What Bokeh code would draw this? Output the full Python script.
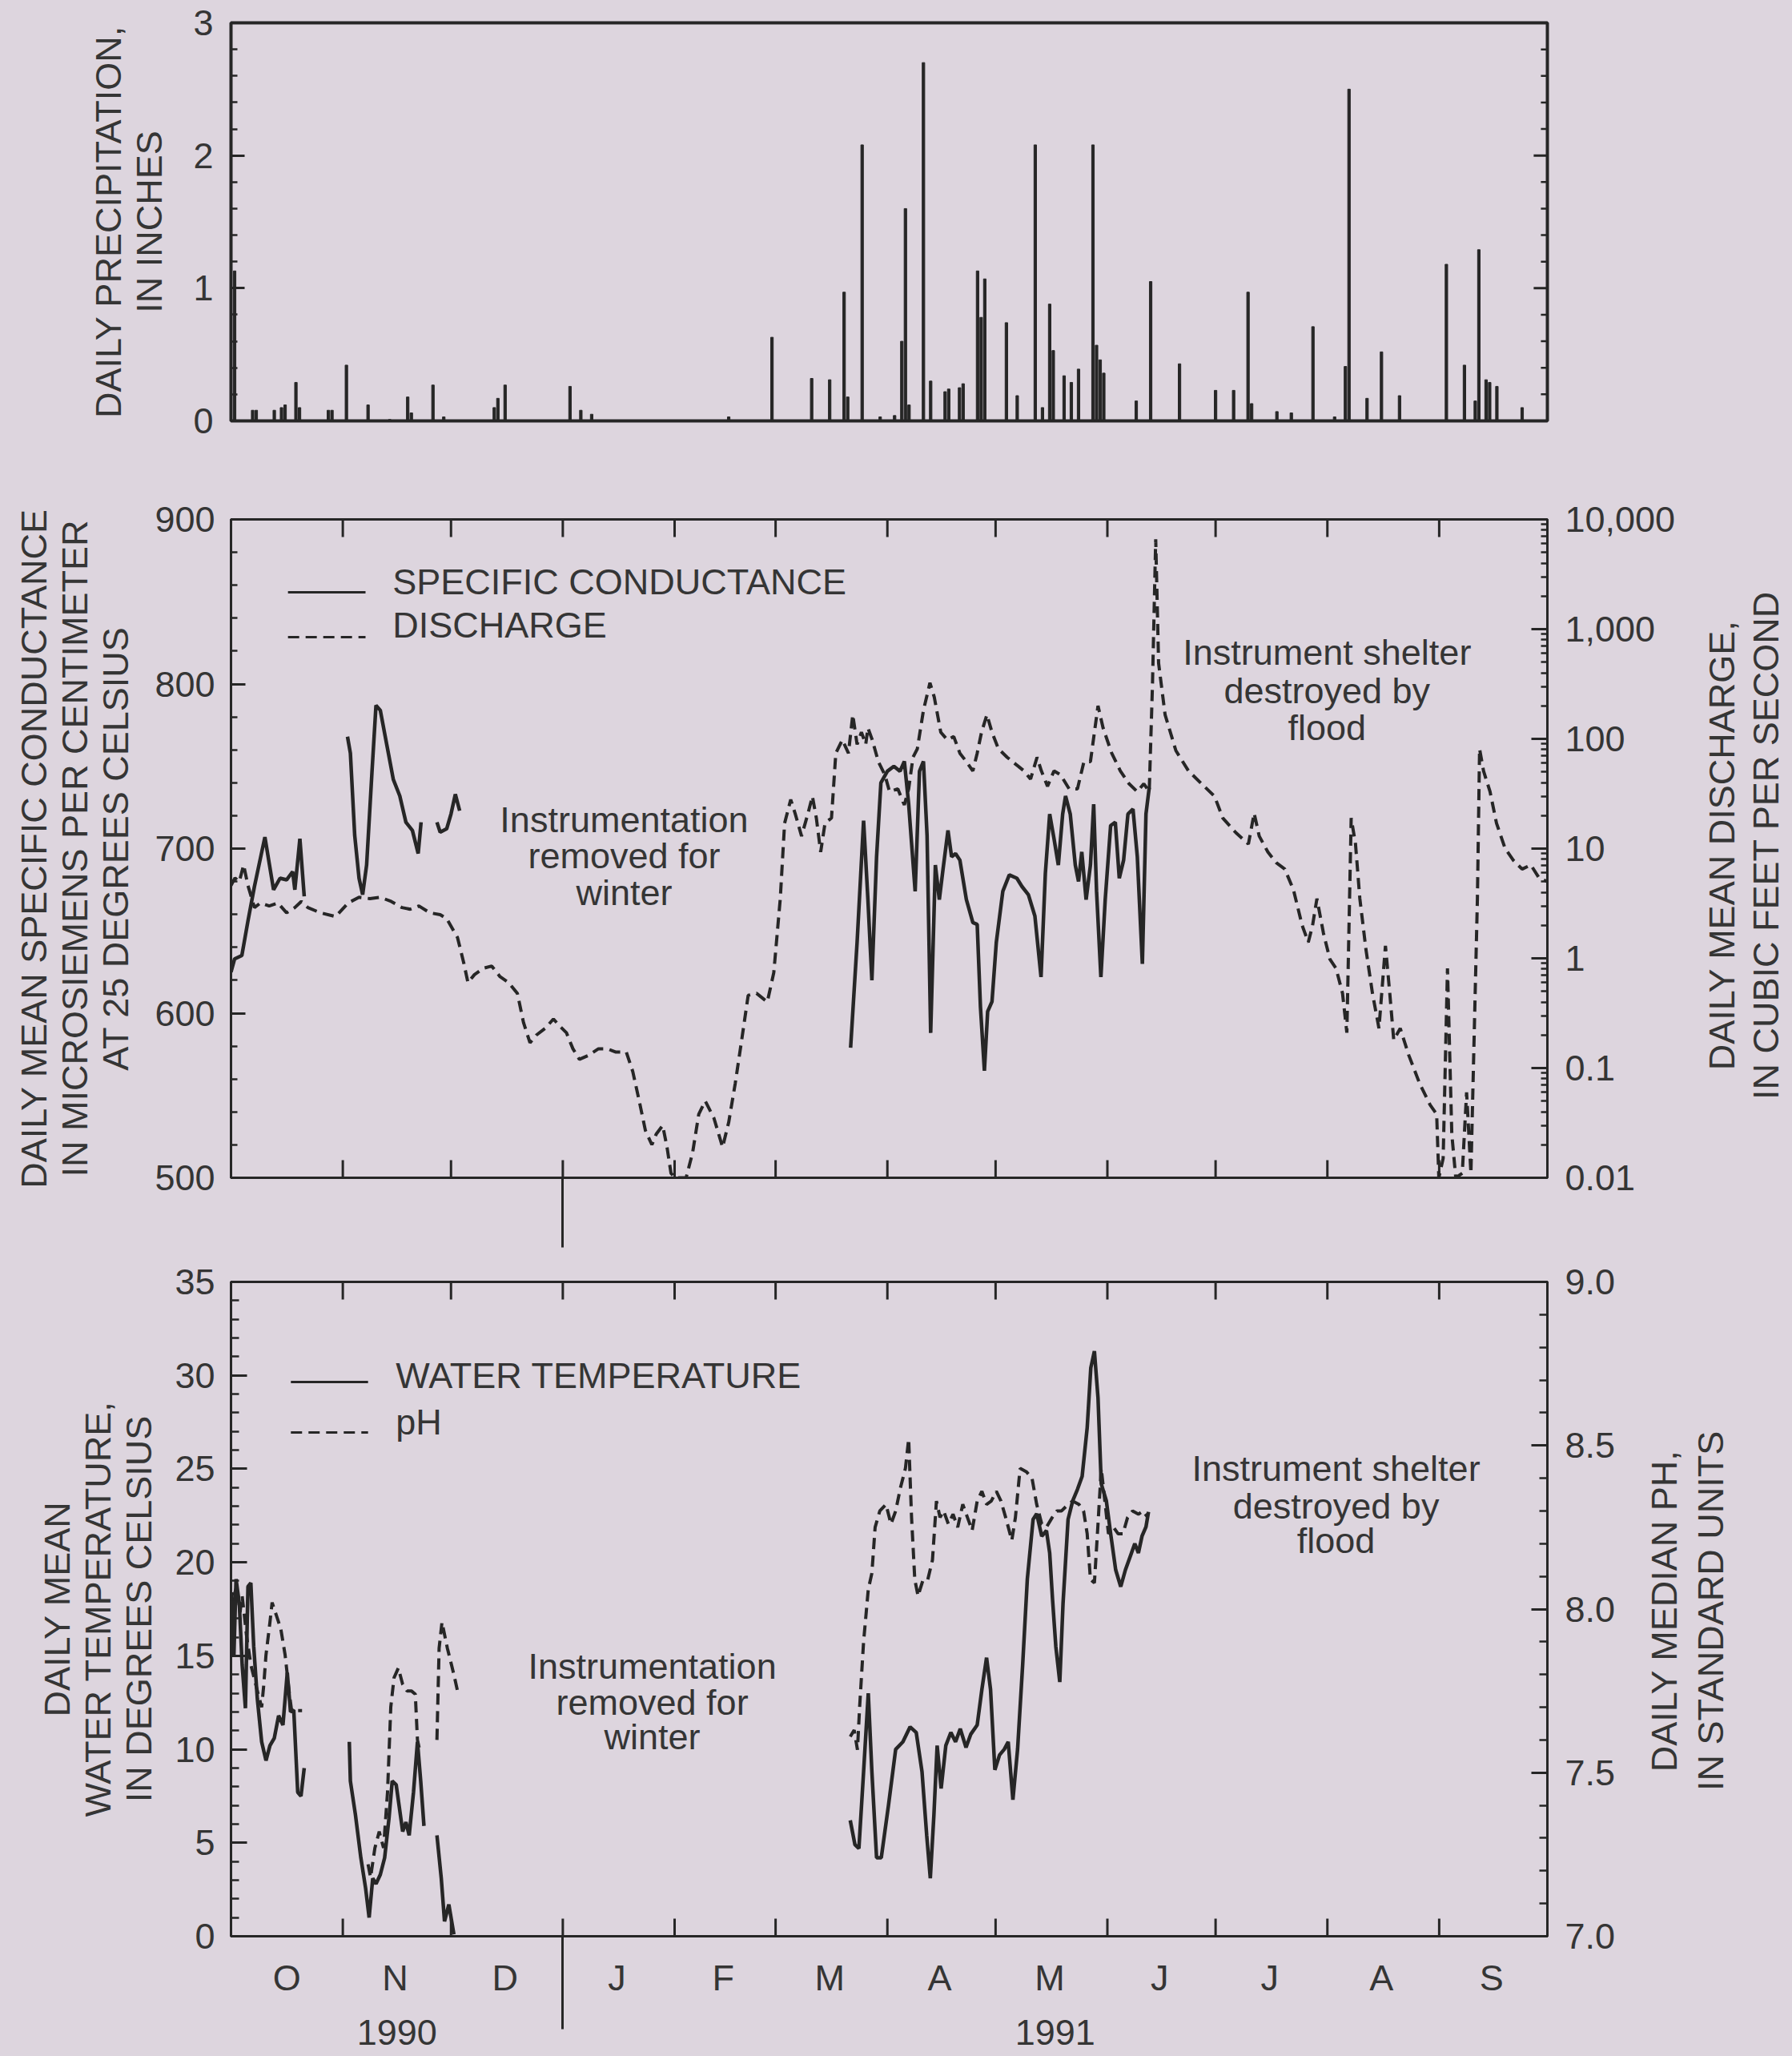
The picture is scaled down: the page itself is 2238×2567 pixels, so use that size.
import numpy as np
from bokeh.plotting import figure
from bokeh.models import (Range1d, LinearAxis, LogAxis, FixedTicker, Label,
                          LogScale, NumeralTickFormatter)
from bokeh.layouts import column, row
from bokeh.embed import file_html
from bokeh.resources import INLINE
from bokeh.core.properties import value

nan = float("nan")

# ---------------- DATA (day 0 = 1 Oct 1990) ----------------
month_starts = [0, 31, 61, 92, 123, 151, 182, 212, 243, 273, 304, 335, 365]
month_mid = [15.5, 45.5, 76, 107, 136.5, 166, 196.5, 227, 257.5, 288, 319, 349.5]
month_letters = ["O", "N", "D", "J", "F", "M", "A", "M", "J", "J", "A", "S"]
year_labels = ["1990", "1991"]
year_mid = [46, 228.5]
new_year_day = 92

precip_day = [1, 6, 7, 12, 14, 15, 18, 19, 27, 28, 32, 38, 44, 49, 50, 56, 59, 73, 74, 76,
              94, 97, 100, 138, 150, 161, 166, 170, 171, 175, 180, 184, 186, 187, 188, 192,
              194, 198, 199, 202, 203, 207, 208, 209, 215, 218, 223, 225, 227, 228, 231, 233,
              235, 239, 240, 241, 242, 251, 255, 263, 273, 278, 282, 283, 290, 294, 300, 306,
              309, 310, 315, 319, 324, 337, 342, 345, 346, 348, 349, 351, 358]
precip_in = [1.13, 0.08, 0.08, 0.08, 0.10, 0.12, 0.29, 0.10, 0.08, 0.08, 0.42, 0.12, 0.01,
             0.18, 0.06, 0.27, 0.03, 0.10, 0.17, 0.27, 0.26, 0.08, 0.05, 0.03, 0.63, 0.32,
             0.31, 0.97, 0.18, 2.08, 0.03, 0.04, 0.60, 1.60, 0.12, 2.70, 0.30, 0.22, 0.24,
             0.25, 0.28, 1.13, 0.78, 1.07, 0.74, 0.19, 2.08, 0.10, 0.88, 0.53, 0.34, 0.29,
             0.39, 2.08, 0.57, 0.46, 0.36, 0.15, 1.05, 0.43, 0.23, 0.23, 0.97, 0.13, 0.07,
             0.06, 0.71, 0.03, 0.41, 2.50, 0.17, 0.52, 0.19, 1.18, 0.42, 0.15, 1.29, 0.31,
             0.29, 0.26, 0.10]

sc_day = [0.0, 1.0, 3.0, 4.7, 6.5, 9.4, 11.8, 13.6, 15.4, 17.1, 17.7, 19.1, 20.3, nan,
          32.3, 33.1, 34.3, 35.5, 36.5, 37.6, 39.1, 40.2, 41.4, 43.2, 45.0, 46.8, 48.5, 50.3,
          51.9, 52.7, nan,
          57.1, 58.0, 59.8, 61.0, 62.2, 63.4, nan,
          171.8, 173.6, 175.4, 176.6, 177.7, 179.0, 180.2, 182.0, 183.8, 185.5, 186.7, 187.9,
          189.7, 190.9, 192.0, 193.0, 194.0, 195.3, 196.4, 197.4, 198.8, 199.8, 200.9, 202.1,
          203.9, 205.7, 206.9, 207.8, 208.9, 209.8, 211.0, 212.2, 214.0, 215.8, 217.9, 219.3,
          221.1, 222.9, 224.6, 225.8, 227.0, 228.2, 229.4, 230.6, 231.4, 232.7, 234.1, 235.0,
          235.9, 237.1, 238.3, 239.2, 240.0, 241.2, 242.4, 243.9, 245.2, 246.3, 247.5, 248.7,
          250.1, 251.3, 252.7, 253.7, 254.6]
sc_val = [625, 633, 635, 656, 677, 707, 675, 682, 681, 686, 675, 706, 671, nan,
          768, 758, 708, 682, 672, 690, 747, 787, 784, 763, 742, 732, 716, 711, 697, 716, nan,
          716, 710, 712, 721, 733, 723, nan,
          579, 643, 717, 669, 620, 695, 740, 747, 750, 747, 753, 727,
          674, 747, 753, 708, 588, 690, 669, 687, 711, 695, 697, 693,
          669, 655, 654, 604, 565, 601, 607, 643, 674, 684, 682, 677,
          672, 659, 622, 685, 721, 706, 690, 721, 732, 721, 690, 680,
          698, 669, 690, 727, 674, 622, 669, 714, 716, 682, 693, 721,
          724, 695, 630, 721, 737]

q_day = [0, 1.1, 2.3, 3.5, 4.7, 6.5, 8.2, 10.6, 13, 15.4, 17.7, 19.5, 21.3, 24.8, 29, 32.5,
         35.5, 38.5, 41.4, 44.4, 47.4, 49.7, 52.1, 55.1, 58, 59.8, 62.8, 64.6, 65.7, 67.5,
         69.9, 72.3, 74.6, 77, 79.4, 81.1, 82.9, 84.7, 87.1, 89.4, 91.2, 93, 94.8, 96.6, 99,
         101.9, 104.3, 106.6, 109.6, 111.4, 113.2, 114.9, 116.7, 117.9, 119.7, 120.9, 122,
         123.2, 126.2, 128, 129.7, 131.5, 133.9, 136.3, 138, 139.8, 141.6, 143.4, 145.7,
         148.7, 150.5, 152.3, 153.5, 155.2, 156.4, 158.2, 160, 161.2, 162.3, 163.5, 164.7,
         166.5, 167.7, 169.5, 171.2, 172.4, 173.6, 174.8, 176, 176.6, 177.8, 179.5, 181.3,
         182.6, 184.9, 186.7, 187.9, 189.1, 190.3, 192, 193.8, 195, 196.8, 198.6, 200.4,
         202.1, 203.9, 205.7, 206.9, 208.1, 209.6, 211, 212.8, 215.2, 217.5, 219.9, 221.7,
         223.5, 224.7, 226.4, 228.2, 230, 232.4, 234.7, 236.5, 238.3, 240.4, 241.8, 244.2,
         246.6, 249, 251.3, 253.1, 254.6, 255.5, 256.4, 257.2, 259, 262, 265.5, 269.1, 272.7,
         275, 278.6, 282.1, 283.7, 285.1, 287.5, 289.9, 292.2, 294.6, 297, 298.7, 299.9,
         301.1, 302.9, 304.7, 306.4, 308.2, 309.4, 310.6, 311.8, 313, 314.7, 316.5, 318.3,
         320.1, 321.3, 322.4, 324.2, 326.6, 329.6, 332.5, 334.3, 334.9, 336.1, 337.3, 338.5,
         339.6, 341.4, 342.6, 343.8, 345.6, 346.2, 347.3, 349.1, 350.9, 353.3, 355.6, 358,
         360.4, 362.7, 365]
q_cfs = [4.6, 5.4, 5.0, 7.1, 4.6, 2.9, 3.2, 3.0, 3.2, 2.6, 2.9, 3.3, 2.9, 2.6, 2.4, 3.2,
         3.6, 3.5, 3.6, 3.3, 2.9, 2.8, 3.0, 2.6, 2.5, 2.3, 1.55, 0.89, 0.60, 0.71,
         0.81, 0.85, 0.68, 0.60, 0.48, 0.26, 0.17, 0.20, 0.23, 0.28, 0.24, 0.21, 0.15, 0.12,
         0.13, 0.15, 0.15, 0.14, 0.14, 0.093, 0.050, 0.027, 0.020, 0.025, 0.030, 0.019, 0.011,
         0.010, 0.010, 0.017, 0.038, 0.050, 0.035, 0.019, 0.032, 0.072, 0.18, 0.46, 0.48,
         0.40, 0.74, 3.5, 17, 28, 21, 13, 21, 30, 19, 9.3, 17,
         19, 74, 98, 74, 166, 89, 115, 89, 126, 98, 62, 47,
         33, 35, 25, 35, 68, 81, 182, 324, 240, 115, 98, 105,
         74, 62, 51, 74, 115, 166, 115, 81, 68, 59, 51, 43,
         68, 51, 37, 51, 47, 35, 35, 62, 62, 200, 126, 74,
         51, 39, 33, 39, 33, 309, 6600, 490, 166, 78, 51, 39, 30,
         19, 14, 11, 21, 13, 9.3, 7.4, 6.5, 4.2, 2.0, 1.4, 2.0,
         3.5, 1.7, 0.98, 0.81, 0.48, 0.21, 19, 11, 3.5, 1.2, 0.48, 0.23,
         1.3, 0.48, 0.18, 0.23, 0.13, 0.072, 0.046, 0.038, 0.010, 0.015, 0.81, 0.025,
         0.010, 0.011, 0.060, 0.011, 3.5, 81, 51, 33, 17, 10, 7.8, 6.5,
         7.1, 5.4, 5.0]

temp_day = [0.2, 0.8, 1.4, 2.3, 3.1, 4.0, 4.7, 5.5, 6.3, 7.3, 8.5, 9.7, 10.8, 12.0, 13.2,
            14.4, 15.6, 16.5, 17.4, 18.5, 19.4, 20.3, nan,
            32.8, 33.1, 34.5, 36.0, 37.3, 38.3, 39.3, 40.2, 41.4, 42.6, 43.8, 44.7, 45.8,
            46.6, 47.6, 48.5, 49.4, 50.6, 51.7, 52.6, 53.5, nan,
            57.1, 58.3, 59.2, 60.4, 61.8, nan,
            171.7, 173.0, 174.1, 175.4, 176.7, 177.7, 179.0, 180.3, 182.3, 184.3, 186.3, 188.3,
            190.0, 191.6, 192.9, 193.9, 194.9, 195.8, 196.9, 198.2, 199.6, 200.9, 202.2, 203.8,
            205.1, 206.9, 208.2, 209.5, 210.6, 211.8, 213.1, 214.4, 215.5, 216.8, 218.1, 219.5,
            220.8, 222.4, 223.4, 224.8, 226.1, 227.0, 227.8, 228.7, 229.8, 230.7, 232.1, 233.4,
            234.7, 236.0, 237.4, 238.4, 239.4, 240.4, 241.3, 242.7, 244.0, 245.3, 246.7, 248.0,
            249.3, 250.6, 251.6, 252.6, 253.7, 254.4]
temp_c = [18.4, 15.0, 19.1, 17.8, 14.5, 12.2, 18.7, 18.9, 15.5, 12.7, 10.4, 9.4, 10.2, 10.6,
          11.8, 11.3, 14.1, 12.0, 12.1, 7.7, 7.5, 9.0, nan,
          10.4, 8.3, 6.5, 4.2, 2.6, 1.0, 3.1, 2.8, 3.3, 4.2, 6.3, 8.3, 8.1,
          7.0, 5.6, 6.1, 5.4, 7.7, 10.4, 8.3, 5.9, nan,
          5.4, 3.1, 0.8, 1.7, 0.1, nan,
          6.2, 4.9, 4.7, 8.8, 13.0, 8.8, 4.2, 4.2, 7.0, 10.0, 10.4, 11.2,
          10.9, 8.8, 5.4, 3.1, 6.5, 10.2, 7.9, 10.2, 10.9, 10.4, 11.1, 10.1,
          10.8, 11.3, 13.2, 14.9, 13.2, 8.9, 9.7, 10.0, 10.4, 7.3, 10.0, 14.5,
          19.1, 22.3, 22.6, 21.4, 21.7, 20.5, 18.0, 15.5, 13.6, 17.8, 22.3, 23.3,
          23.9, 24.6, 27.2, 30.4, 31.3, 28.8, 24.2, 23.3, 21.4, 19.6, 18.7, 19.6,
          20.3, 21.0, 20.5, 21.4, 21.9, 22.7]

ph_day = [0.2, 0.8, 1.6, 2.5, 3.1, 4.3, 5.5, 7.3, 8.5, 9.1, 9.7, 10.8, 11.4, 12.6, 13.8,
          15.0, 16.2, 16.8, 19.7, nan,
          38.0, 38.7, 39.9, 41.1, 42.3, 43.4, 44.3, 45.2, 46.4, 47.6, 48.8, 50.0, 51.1, 51.7,
          52.3, nan,
          57.1, 57.7, 58.5, 60.0, 61.8, 63.0, nan,
          171.7, 172.8, 173.7, 174.3, 175.4, 176.7, 177.7, 178.6, 179.9, 181.6, 183.0, 184.3,
          185.6, 187.0, 187.9, 188.7, 189.6, 190.5, 191.9, 193.2, 194.5, 195.6, 196.6, 197.6,
          198.9, 200.2, 201.5, 202.9, 204.2, 205.5, 206.9, 208.2, 209.5, 210.8, 212.2, 213.5,
          214.8, 216.5, 217.5, 218.8, 220.5, 222.1, 223.4, 224.8, 226.1, 227.7, 229.0, 230.3,
          232.1, 233.4, 235.1, 236.4, 237.4, 238.3, 239.4, 240.4, 241.3, 242.3, 243.3, 244.7,
          246.0, 247.3, 248.6, 250.0, 251.6, 252.9, 254.2]
ph_val = [7.88, 8.04, 8.07, 7.99, 8.04, 7.92, 7.83, 7.75, 7.70, 7.77, 7.86, 7.96, 8.02, 7.98,
          7.94, 7.86, 7.74, 7.69, 7.69, nan,
          7.22, 7.18, 7.27, 7.32, 7.27, 7.44, 7.70, 7.79, 7.82, 7.77, 7.75, 7.75, 7.74, 7.60,
          7.57, nan,
          7.60, 7.88, 7.96, 7.88, 7.80, 7.74, nan,
          7.61, 7.63, 7.57, 7.70, 7.90, 8.06, 8.11, 8.25, 8.30, 8.32, 8.26, 8.30,
          8.37, 8.43, 8.52, 8.28, 8.09, 8.04, 8.09, 8.09, 8.15, 8.33, 8.28, 8.30,
          8.26, 8.29, 8.25, 8.32, 8.28, 8.24, 8.33, 8.36, 8.32, 8.33, 8.36, 8.33,
          8.28, 8.21, 8.28, 8.43, 8.42, 8.40, 8.32, 8.26, 8.25, 8.28, 8.30, 8.30,
          8.32, 8.33, 8.32, 8.30, 8.23, 8.09, 8.08, 8.26, 8.43, 8.33, 8.23, 8.25,
          8.23, 8.23, 8.28, 8.30, 8.29, 8.30, 8.28]

# ---------------- STYLE / LAYOUT ----------------
BG = "#ddd5de"
INK = "#262626"
TXT = "#353535"
FONT = "Liberation Sans"
FS = "45px"
TW = 2236          # total width
FL = 288           # page x of every frame's left edge
FW = 1644          # frame width in px
FR = FL + FW       # page x of every frame's right edge
DASH = "14 8"
inner_months = month_starts[1:-1]


def base_fig(width, height, top, frame_h, y_range):
    p = figure(width=width, height=height, x_range=Range1d(0, 365), y_range=y_range,
               title=None, output_backend="svg", toolbar_location=None,
               x_axis_location=None, y_axis_location=None,
               min_border_left=FL, min_border_right=width - FR,
               min_border_top=top, min_border_bottom=height - top - frame_h,
               background_fill_color=BG, border_fill_color=BG)
    p.grid.visible = False
    p.outline_line_color = INK
    p.outline_line_width = 3
    return p


def side_strip(x0, height, top, frame_h, y_range, xs, yc, lines):
    """Narrow text-only figure right of a panel; its frame matches the panel frame."""
    w = TW - x0
    s = figure(width=w, height=height, x_range=Range1d(x0, TW), y_range=y_range,
               title=None, output_backend="svg", toolbar_location=None,
               x_axis_location=None, y_axis_location=None,
               min_border_left=0, min_border_right=0, min_border_top=top,
               min_border_bottom=height - top - frame_h,
               background_fill_color=BG, border_fill_color=BG)
    s.grid.visible = False
    s.outline_line_color = None
    s.text(x=xs, y=[yc] * len(xs), text=lines, angle=np.pi / 2, text_align="center",
           text_baseline="middle", text_font=value(FONT), text_font_size=value(FS),
           text_color=TXT)
    return s


def style_axis(ax, major_in, minor_in, standoff=20):
    ax.axis_line_color = INK
    ax.axis_line_width = 3
    ax.major_tick_line_color = INK
    ax.major_tick_line_width = 3
    ax.minor_tick_line_color = INK
    ax.minor_tick_line_width = 2.5
    ax.major_tick_in = major_in
    ax.major_tick_out = 0
    ax.minor_tick_in = minor_in
    ax.minor_tick_out = 0
    ax.major_label_text_font = FONT
    ax.major_label_text_font_size = FS
    ax.major_label_text_color = TXT
    ax.major_label_standoff = standoff
    return ax


def axis_title(ax, text, standoff):
    ax.axis_label = text
    ax.axis_label_text_font = FONT
    ax.axis_label_text_font_size = FS
    ax.axis_label_text_font_style = "normal"
    ax.axis_label_text_color = TXT
    ax.axis_label_text_align = "center"
    ax.axis_label_text_line_height = 1.0
    ax.axis_label_standoff = standoff


def month_ticks(p, y_top, y_bot, length):
    n = len(inner_months)
    p.segment(x0=inner_months, x1=inner_months, y0=[y_top] * n, y1=[y_top - length] * n,
              line_color=INK, line_width=3)
    p.segment(x0=inner_months, x1=inner_months, y0=[y_bot] * n, y1=[y_bot + length] * n,
              line_color=INK, line_width=3)


def txt(p, x, y, text, align="center", y_range_name="default"):
    p.add_layout(Label(x=x, y=y, text=text, text_align=align, text_baseline="middle",
                       text_font=FONT, text_font_size=FS, text_color=TXT,
                       y_range_name=y_range_name))


# ================= PANEL 1 : precipitation (page y 0-582) =================
p1 = base_fig(TW, 582, 28, 497, Range1d(0, 3))
p1.outline_line_width = 4
axp = LinearAxis(ticker=FixedTicker(ticks=[0, 1, 2, 3],
                                    minor_ticks=[i * 0.2 for i in range(16)]))
style_axis(axp, 17, 8, standoff=22)
axis_title(axp, "DAILY PRECIPITATION,\nIN INCHES", 26)
p1.add_layout(axp, "left")
p1_major = [1, 2]
p1_minor = [i * 0.2 for i in range(1, 15) if i % 5 != 0]
p1.segment(x0=[365] * 2, x1=[365 - 3.8] * 2, y0=p1_major, y1=p1_major, line_color=INK,
           line_width=3)
p1.segment(x0=[365] * len(p1_minor), x1=[365 - 1.8] * len(p1_minor), y0=p1_minor,
           y1=p1_minor, line_color=INK, line_width=2.5)
p1.vbar(x=precip_day, top=precip_in, bottom=0, width=0.7, color=INK)

# ================= PANEL 2 : conductance & discharge (page y 582-1560) =================
R2X = FR + 175
H2, T2, F2 = 978, 66, 822
p2 = base_fig(R2X, H2, T2, F2, Range1d(500, 900))
p2.extra_y_ranges = {"q": Range1d(0.01, 10000)}
p2.extra_y_scales = {"q": LogScale()}
axl = LinearAxis(ticker=FixedTicker(ticks=[500, 600, 700, 800, 900],
                                    minor_ticks=list(range(500, 901, 20))))
style_axis(axl, 18, 8, standoff=20)
axis_title(axl, "DAILY MEAN SPECIFIC CONDUCTANCE\nIN MICROSIEMENS PER CENTIMETER\n"
                "AT 25 DEGREES CELSIUS", 20)
p2.add_layout(axl, "left")
q_major = [0.01, 0.1, 1, 10, 100, 1000, 10000]
q_minor = [k * 10.0 ** e for e in range(-2, 4) for k in range(2, 10)]
axr = LogAxis(y_range_name="q", ticker=FixedTicker(ticks=q_major, minor_ticks=q_minor))
style_axis(axr, 20, 8, standoff=22)
axr.major_label_overrides = {0.01: "0.01", 0.1: "0.1", 1: "1", 10: "10", 100: "100",
                             1000: "1,000", 10000: "10,000"}
p2.add_layout(axr, "right")
axd = LinearAxis(ticker=FixedTicker(ticks=[], minor_ticks=[new_year_day]))
style_axis(axd, 0, 0)
axd.minor_tick_out = 87
axd.minor_tick_line_width = 3
p2.add_layout(axd, "below")
month_ticks(p2, 900, 500, 10.7)

p2.line(q_day, q_cfs, y_range_name="q", line_color=INK, line_width=4, line_dash=DASH)
p2.line(sc_day, sc_val, line_color=INK, line_width=4.5)

p2.segment(x0=[15.8], y0=[855.7], x1=[37.3], y1=[855.7], line_color=INK, line_width=3)
p2.segment(x0=[15.8], y0=[828.5], x1=[37.3], y1=[828.5], line_color=INK, line_width=3,
           line_dash=DASH)
txt(p2, 44.8, 862, "SPECIFIC CONDUCTANCE", align="left")
txt(p2, 44.8, 836, "DISCHARGE", align="left")
for t, yv in zip(["Instrumentation", "removed for", "winter"], [717.5, 695.4, 673.3]):
    txt(p2, 109, yv, t)
for t, yv in zip(["Instrument shelter", "destroyed by", "flood"], [819.2, 795.9, 773.5]):
    txt(p2, 303.9, yv, t)

R2 = side_strip(R2X, H2, T2, F2, Range1d(500, 900), [2150, 2205], 702,
                ["DAILY MEAN DISCHARGE,", "IN CUBIC FEET PER SECOND"])
row2 = row(p2, R2)

# ================= PANEL 3 : temperature & pH (page y 1560-2566) =================
R3X = FR + 118
H3, T3, F3 = 1006, 40, 817
p3 = base_fig(R3X, H3, T3, F3, Range1d(0, 35))
p3.extra_y_ranges = {"ph": Range1d(7, 9)}
axl3 = LinearAxis(ticker=FixedTicker(ticks=[0, 5, 10, 15, 20, 25, 30, 35],
                                     minor_ticks=list(range(0, 36))))
style_axis(axl3, 20, 10, standoff=20)
axis_title(axl3, "DAILY MEAN\nWATER TEMPERATURE,\nIN DEGREES CELSIUS", 16)
p3.add_layout(axl3, "left")
axr3 = LinearAxis(y_range_name="ph",
                  ticker=FixedTicker(ticks=[7.0, 7.5, 8.0, 8.5, 9.0],
                                     minor_ticks=[7 + i * 0.1 for i in range(21)]))
style_axis(axr3, 20, 10, standoff=22)
axr3.formatter = NumeralTickFormatter(format="0.0")
p3.add_layout(axr3, "right")
month_ticks(p3, 35, 0, 0.94)

# bottom: month letters (major ticks of zero length) + new-year divider (minor tick out)
axm = LinearAxis(ticker=FixedTicker(ticks=month_mid, minor_ticks=[new_year_day]))
style_axis(axm, 0, 0, standoff=-90)
axm.minor_tick_out = 116
axm.minor_tick_line_width = 3
axm.major_label_overrides = dict(zip(month_mid, month_letters))
p3.add_layout(axm, "below")
axy = LinearAxis(ticker=FixedTicker(ticks=year_mid, minor_ticks=[]))
style_axis(axy, 0, 0, standoff=24)
axy.axis_line_color = None
axy.major_label_overrides = dict(zip(year_mid, year_labels))
p3.add_layout(axy, "below")

p3.line(ph_day, ph_val, y_range_name="ph", line_color=INK, line_width=4, line_dash=DASH)
p3.line(temp_day, temp_c, line_color=INK, line_width=4.5)

p3.segment(x0=[16.6], y0=[29.65], x1=[38.0], y1=[29.65], line_color=INK, line_width=3)
p3.segment(x0=[16.6], y0=[26.95], x1=[38.0], y1=[26.95], line_color=INK, line_width=3,
           line_dash=DASH)
txt(p3, 45.7, 30.0, "WATER TEMPERATURE", align="left")
txt(p3, 45.7, 27.5, "pH", align="left")
for t, yv in zip(["Instrumentation", "removed for", "winter"], [14.44, 12.51, 10.67]):
    txt(p3, 116.8, yv, t)
for t, yv in zip(["Instrument shelter", "destroyed by", "flood"], [25.02, 23.0, 21.17]):
    txt(p3, 306.4, yv, t)

R3 = side_strip(R3X, H3, T3, F3, Range1d(0, 35), [2078, 2136], 17.4,
                ["DAILY MEDIAN PH,", "IN STANDARD UNITS"])
row3 = row(p3, R3)

layout = column(p1, row2, row3)
html = file_html(layout, INLINE, title="Precipitation, conductance, discharge, temperature, pH")
html = html.replace("</head>",
                    "<style>html, body { background-color: %s !important; }</style></head>" % BG,
                    1)
open("out.html", "w").write(html)
